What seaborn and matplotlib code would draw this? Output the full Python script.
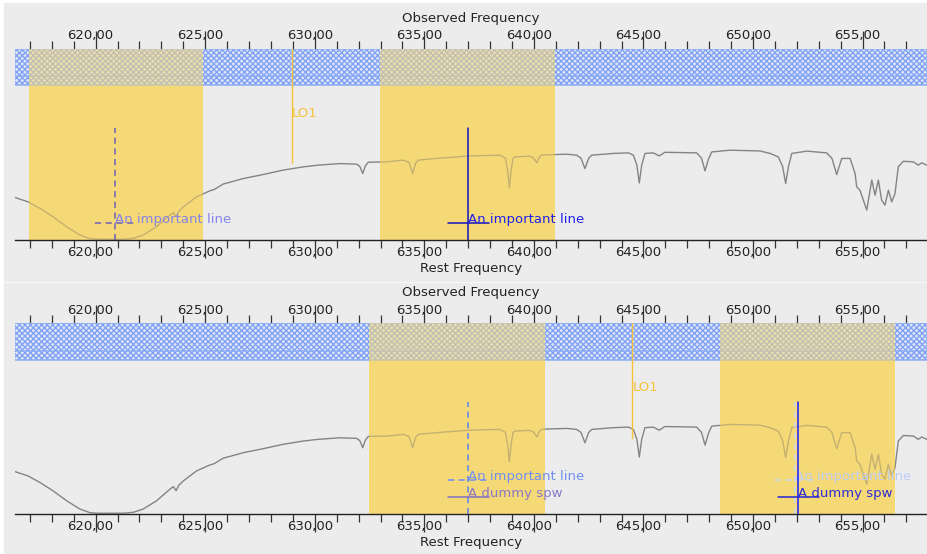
import matplotlib
matplotlib.use("Agg")
import matplotlib.pyplot as plt
import matplotlib.transforms as mtransforms
from matplotlib.patches import Rectangle
import pandas as pd
import seaborn as sns

# ---------------- data ----------------
freq = [616.32, 616.92, 617.46, 618.06, 618.68, 619.28, 619.74, 620.05, 621.26, 621.72,
        622.17, 622.78, 623.39, 623.55, 623.67, 623.80, 624.00, 624.61, 625.22, 625.40,
        625.82, 626.74, 627.65, 628.56, 629.48, 630.16, 631.15, 631.91, 632.05, 632.19,
        632.30, 632.44, 633.28, 634.04, 634.30, 634.47, 634.60, 634.72, 635.56, 637.08,
        638.45, 638.70, 638.80, 638.88, 638.96, 639.05, 639.14, 639.82, 640.00, 640.13,
        640.25, 640.36, 641.50, 641.95, 642.15, 642.33, 642.50, 642.64, 643.62, 644.31,
        644.54, 644.70, 644.81, 644.92, 645.07, 645.45, 645.72, 645.98, 647.43, 647.65,
        647.81, 647.98, 648.12, 648.95, 650.32, 650.78, 651.15, 651.35, 651.49, 651.62,
        651.77, 652.45, 653.36, 653.60, 653.82, 654.05, 654.43, 654.66, 654.73, 654.88,
        655.19, 655.42, 655.57, 655.72, 655.87, 656.02, 656.18, 656.33, 656.48, 656.63,
        656.86, 657.32, 657.54, 657.70, 657.93]
transmission = [0.222, 0.199, 0.165, 0.121, 0.069, 0.026, 0.007, 0.004, 0.004, 0.009,
                0.026, 0.069, 0.130, 0.143, 0.122, 0.151, 0.173, 0.226, 0.257, 0.263,
                0.292, 0.321, 0.342, 0.365, 0.382, 0.391, 0.399, 0.396, 0.385, 0.347,
                0.385, 0.406, 0.408, 0.417, 0.406, 0.347, 0.401, 0.417, 0.426, 0.439,
                0.443, 0.427, 0.365, 0.274, 0.365, 0.427, 0.434, 0.438, 0.427, 0.403,
                0.432, 0.444, 0.448, 0.443, 0.427, 0.373, 0.427, 0.443, 0.452, 0.455,
                0.443, 0.391, 0.298, 0.391, 0.452, 0.455, 0.439, 0.458, 0.455, 0.427,
                0.361, 0.427, 0.460, 0.469, 0.465, 0.452, 0.434, 0.385, 0.295, 0.385,
                0.452, 0.464, 0.455, 0.427, 0.342, 0.426, 0.426, 0.347, 0.278, 0.260,
                0.156, 0.313, 0.234, 0.313, 0.208, 0.182, 0.260, 0.199, 0.243, 0.382,
                0.411, 0.408, 0.391, 0.403, 0.391]

freq_range = [616.32, 657.94]
major_ticks = [620, 625, 630, 635, 640, 645, 650, 655]
tick_labels = ["620,00", "625,00", "630,00", "635,00", "640,00", "645,00", "650,00", "655,00"]
minor_ticks = list(range(617, 658))

# top panel
top_spw_low = [616.96, 632.98]
top_spw_high = [624.90, 640.96]
top_lo1 = 628.95
top_line_freq = [620.90, 637.00]
top_line_name = ["An important line", "An important line"]

# bottom panel
bot_spw_low = [632.47, 648.49]
bot_spw_high = [640.51, 656.48]
bot_lo1 = 644.50
bot_line_freq = [637.00, 651.92]
bot_line_name = ["An important line", "An important line"]
bot_marker_freq = [637.00, 652.07]
bot_marker_name = ["A dummy spw", "A dummy spw"]

# ---------------- style ----------------
sns.set_theme(style="white")
plt.rcParams["font.family"] = ["DejaVu Sans"]
plt.rcParams["hatch.linewidth"] = 0.9

W, H = 928, 554
fig = plt.figure(figsize=(W / 100, H / 100), dpi=100, facecolor="white")

PANEL = "#ececec"
YELLOW = "#f6d977"
BAND_EDGE = "#7d9ff7"
LO_COLOR = "#f5c23a"
TXT = 9.5
BAND_LOW = 0.807

fig.add_artist(Rectangle((4 / W, (H - 281) / H), (W - 4) / W, 278 / H,
                         transform=fig.transFigure, color=PANEL, zorder=0))
fig.add_artist(Rectangle((4 / W, 0), (W - 4) / W, 271 / H,
                         transform=fig.transFigure, color=PANEL, zorder=0))

left = 15 / W
width = 912 / W
ax_top = fig.add_axes([left, (H - 240) / H, width, 191.5 / H])
ax_bot = fig.add_axes([left, (H - 514) / H, width, 191 / H])

spec = pd.DataFrame({"freq": freq, "transmission": transmission})

LINE_H = 0.586
UNDER1 = 0.089
UNDER2 = 0.18
HALF = 0.93


def base_axes(ax, spw_low, spw_high, lo1):
    ax.set_facecolor("none")
    ax.set_xlim(*freq_range)
    ax.set_ylim(0, 1)
    for s in ["left", "right", "top"]:
        ax.spines[s].set_visible(False)
    ax.spines["bottom"].set_color("#222222")
    ax.spines["bottom"].set_linewidth(1.0)
    ax.spines["bottom"].set_zorder(7)
    ax.set_yticks([])
    ax.set_xticks(major_ticks)
    ax.set_xticklabels(tick_labels)
    ax.set_xticks(minor_ticks, minor=True)
    ax.tick_params(axis="x", which="major", direction="out", length=13, width=0.9,
                   pad=-8.6, top=True, bottom=True, labeltop=True, labelbottom=True,
                   labelsize=TXT, color="#333333", labelcolor="#222222")
    ax.tick_params(axis="x", which="minor", direction="out", length=5.8, width=0.9,
                   top=True, bottom=True, color="#333333")
    # spectral windows (opaque below the band)
    for lo, hi in zip(spw_low, spw_high):
        ax.axvspan(lo, hi, ymin=0, ymax=BAND_LOW, color=YELLOW, lw=0, zorder=1)
    # coverage band
    ax.axhspan(BAND_LOW, 1.0, facecolor=(0.80, 0.86, 1.0, 0.45), edgecolor=BAND_EDGE,
               hatch="xxxxxx", lw=0, zorder=2)
    for yy in (BAND_LOW, 0.854, 0.998):
        ax.axhline(yy, color="#8eaef5", lw=1.1, zorder=2)
    # spectrum
    sns.lineplot(data=spec, x="freq", y="transmission", ax=ax, color="#6a6a6a",
                 lw=1.0, alpha=0.8, zorder=3, legend=False)
    ax.set_xlabel("")
    ax.set_ylabel("")
    # translucent window overlay (tints spectrum and band)
    for lo, hi in zip(spw_low, spw_high):
        ax.axvspan(lo, hi, ymin=0, ymax=1, color=YELLOW, alpha=0.55, lw=0, zorder=3.5)
    # LO1
    ax.plot([lo1, lo1], [0.40, 1.0], color=LO_COLOR, lw=1.0, zorder=4)
    ax.text(lo1, 0.662, "LO1", color=LO_COLOR, fontsize=TXT, ha="left", va="center",
            zorder=5)
    # axis titles
    ax.text(0.5, 1.158, "Observed Frequency", transform=ax.transAxes, ha="center",
            va="center", fontsize=TXT, color="#222222")
    ax.text(0.5, -0.148, "Rest Frequency", transform=ax.transAxes, ha="center",
            va="center", fontsize=TXT, color="#222222")
    off = mtransforms.ScaledTranslation(-5 / 100, 0, fig.dpi_scale_trans)
    for t in ax.xaxis.get_major_ticks():
        t.label1.set_transform(t.label1.get_transform() + off)
        t.label2.set_transform(t.label2.get_transform() + off)


def marker(ax, f, name, y_under, vcolor, hcolor, tcolor, ls, vert=True):
    if vert:
        ax.plot([f, f], [0, LINE_H], color=vcolor, lw=1.1, ls=ls, zorder=6)
    ax.plot([f - HALF, f + HALF], [y_under, y_under], color=hcolor, lw=1.1, ls=ls,
            zorder=6)
    ax.text(f, y_under, name, color=tcolor, fontsize=TXT, ha="left", va="baseline",
            zorder=6)


base_axes(ax_top, top_spw_low, top_spw_high, top_lo1)
marker(ax_top, top_line_freq[0], top_line_name[0], UNDER1,
       "#6d5fb8", "#6d5fb8", "#8484ea", (0, (4, 3)))
marker(ax_top, top_line_freq[1], top_line_name[1], UNDER1,
       "#1414c0", "#1414c0", "#2020ee", "-")

base_axes(ax_bot, bot_spw_low, bot_spw_high, bot_lo1)
marker(ax_bot, bot_line_freq[0], bot_line_name[0], UNDER2,
       "#5f82f0", "#6b8cf5", "#6f8ff5", (0, (4, 3)))
marker(ax_bot, bot_marker_freq[0], bot_marker_name[0], UNDER1,
       "#5f82f0", "#7f70c0", "#8878c8", "-", vert=False)
marker(ax_bot, bot_line_freq[1], bot_line_name[1], UNDER2,
       "#c9d4ee", "#c6d4f3", "#bccdf6", (0, (4, 3)))
marker(ax_bot, bot_marker_freq[1], bot_marker_name[1], UNDER1,
       "#1a1aff", "#2424d8", "#2b2bd9", "-")

fig.savefig("out.png", dpi=100, facecolor="white")
